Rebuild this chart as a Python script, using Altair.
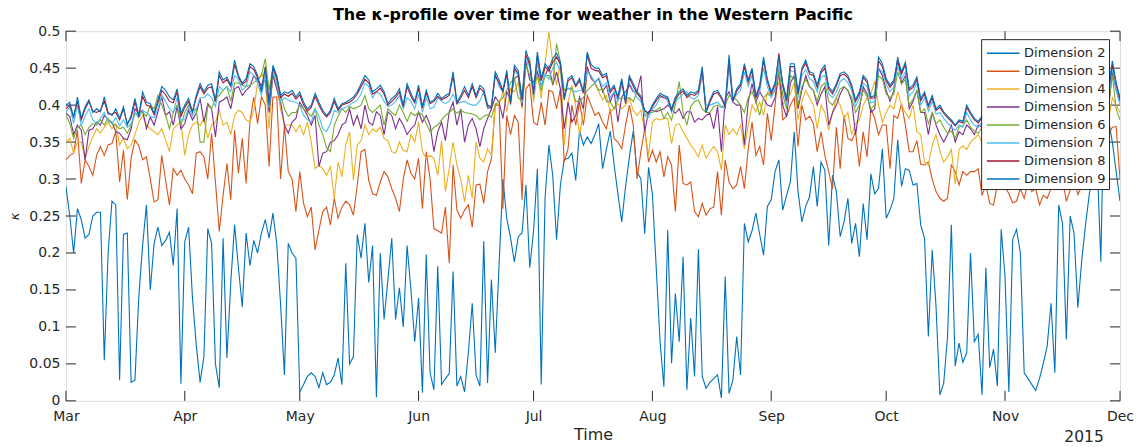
import altair as alt
import pandas as pd

start_date = "2015-03-01"
series_names = ["Dimension 2", "Dimension 3", "Dimension 4", "Dimension 5",
                "Dimension 6", "Dimension 7", "Dimension 8", "Dimension 9"]
colors = ["#0072BD", "#D95319", "#EDB120", "#7E2F8E",
          "#77AC30", "#4DBEEE", "#A2142F", "#0072BD"]

dim2 = [
    0.29, 0.25, 0.20, 0.26, 0.245, 0.22, 0.225, 0.25, 0.255, 0.255,
    0.055, 0.20, 0.27, 0.265, 0.028, 0.225, 0.227, 0.025, 0.028, 0.14,
    0.21, 0.265, 0.15, 0.213, 0.235, 0.21, 0.217, 0.228, 0.183, 0.26,
    0.023, 0.215, 0.235, 0.14, 0.075, 0.025, 0.06, 0.233, 0.213, 0.05,
    0.018, 0.22, 0.058, 0.16, 0.238, 0.18, 0.127, 0.227, 0.183, 0.217,
    0.20, 0.227, 0.245, 0.22, 0.254, 0.213, 0.13, 0.035, 0.213, 0.20,
    0.193, 0.012, 0.022, 0.033, 0.038, 0.033, 0.018, 0.038, 0.022, 0.025,
    0.035, 0.058, 0.022, 0.186, 0.05, 0.06, 0.225, 0.193, 0.24, 0.16,
    0.21, 0.005, 0.20, 0.11, 0.164, 0.22, 0.11, 0.153, 0.10, 0.21,
    0.15, 0.08, 0.139, 0.011, 0.198, 0.038, 0.015, 0.182, 0.022, 0.03,
    0.037, 0.175, 0.02, 0.033, 0.012, 0.066, 0.132, 0.035, 0.02, 0.216,
    0.024, 0.164, 0.065, 0.184, 0.30, 0.247, 0.22, 0.188, 0.222, 0.227,
    0.292, 0.18, 0.23, 0.314, 0.022, 0.274, 0.346, 0.305, 0.218, 0.292,
    0.326, 0.328, 0.335, 0.298, 0.366, 0.346, 0.357, 0.348, 0.36, 0.375,
    0.314, 0.34, 0.365, 0.32, 0.28, 0.242, 0.29, 0.33, 0.365, 0.31,
    0.30, 0.226, 0.316, 0.28, 0.18, 0.08, 0.019, 0.231, 0.051, 0.145,
    0.08, 0.195, 0.015, 0.112, 0.033, 0.205, 0.033, 0.017, 0.025, 0.03,
    0.035, 0.004, 0.168, 0.01, 0.028, 0.087, 0.035, 0.24, 0.215, 0.23,
    0.254, 0.225, 0.197, 0.263, 0.272, 0.31, 0.326, 0.258, 0.278, 0.296,
    0.364, 0.283, 0.242, 0.263, 0.276, 0.317, 0.263, 0.323, 0.312, 0.21,
    0.305, 0.283, 0.222, 0.242, 0.274, 0.213, 0.24, 0.195, 0.267, 0.218,
    0.307, 0.28, 0.287, 0.341, 0.247, 0.258, 0.274, 0.353, 0.29, 0.314,
    0.312, 0.292, 0.294, 0.238, 0.22, 0.087, 0.204, 0.128, 0.008, 0.024,
    0.087, 0.238, 0.047, 0.078, 0.052, 0.065, 0.20, 0.08, 0.09, 0.008,
    0.18, 0.045, 0.07, 0.02, 0.232, 0.168, 0.012, 0.218, 0.232, 0.20,
    0.038, 0.03, 0.022, 0.014, 0.03, 0.051, 0.074, 0.132, 0.038, 0.265,
    0.24, 0.083, 0.25, 0.227, 0.126, 0.189, 0.238, 0.28, 0.305, 0.33,
    0.188, 0.467, 0.38, 0.35, 0.31, 0.27,
]

dim3 = [
    0.326, 0.332, 0.335, 0.366, 0.294, 0.326, 0.317, 0.305, 0.332, 0.344,
    0.332, 0.346, 0.348, 0.364, 0.296, 0.339, 0.272, 0.328, 0.353, 0.345,
    0.326, 0.33, 0.30, 0.269, 0.272, 0.332, 0.298, 0.265, 0.314, 0.305,
    0.312, 0.30, 0.292, 0.28, 0.335, 0.337, 0.33, 0.30, 0.362, 0.296,
    0.229, 0.278, 0.321, 0.272, 0.366, 0.308, 0.355, 0.294, 0.378, 0.411,
    0.375, 0.411, 0.40, 0.317, 0.411, 0.411, 0.30, 0.373, 0.31, 0.30,
    0.256, 0.31, 0.267, 0.249, 0.262, 0.204, 0.231, 0.256, 0.262, 0.238,
    0.274, 0.247, 0.262, 0.27, 0.265, 0.251, 0.292, 0.337, 0.34, 0.298,
    0.28, 0.278, 0.296, 0.31, 0.303, 0.287, 0.274, 0.256, 0.30, 0.326,
    0.308, 0.30, 0.328, 0.26, 0.337, 0.30, 0.233, 0.23, 0.227, 0.262,
    0.186, 0.319, 0.258, 0.247, 0.258, 0.265, 0.235, 0.292, 0.293, 0.267,
    0.31, 0.328, 0.40, 0.40, 0.26, 0.386, 0.36, 0.386, 0.377, 0.272,
    0.422, 0.429, 0.377, 0.373, 0.404, 0.373, 0.42, 0.418, 0.395, 0.422,
    0.323, 0.341, 0.40, 0.373, 0.404, 0.373, 0.413, 0.40, 0.386, 0.39,
    0.377, 0.368, 0.395, 0.355, 0.35, 0.341, 0.373, 0.40, 0.373, 0.30,
    0.337, 0.368, 0.323, 0.339, 0.323, 0.337, 0.303, 0.33, 0.319, 0.256,
    0.346, 0.294, 0.292, 0.296, 0.256, 0.249, 0.267, 0.251, 0.26, 0.262,
    0.31, 0.251, 0.326, 0.296, 0.287, 0.292, 0.317, 0.287, 0.341, 0.377,
    0.332, 0.344, 0.319, 0.389, 0.352, 0.40, 0.45, 0.38, 0.385, 0.40,
    0.41, 0.344, 0.40, 0.38, 0.385, 0.375, 0.337, 0.364, 0.332, 0.31,
    0.287, 0.37, 0.314, 0.386, 0.355, 0.352, 0.364, 0.317, 0.364, 0.33,
    0.395, 0.382, 0.36, 0.373, 0.373, 0.314, 0.386, 0.382, 0.402, 0.373,
    0.337, 0.337, 0.352, 0.32, 0.319, 0.323, 0.30, 0.283, 0.274, 0.27,
    0.274, 0.319, 0.31, 0.292, 0.31, 0.305, 0.31, 0.31, 0.314, 0.278,
    0.292, 0.267, 0.265, 0.292, 0.30, 0.29, 0.28, 0.268, 0.27, 0.287,
    0.274, 0.296, 0.283, 0.287, 0.265, 0.278, 0.274, 0.287, 0.30, 0.29,
    0.30, 0.27, 0.285, 0.30, 0.279, 0.29, 0.31, 0.305, 0.33, 0.345,
    0.35, 0.38, 0.36, 0.37, 0.371, 0.30,
]

dim4 = [
    0.35, 0.355, 0.335, 0.35, 0.35, 0.328, 0.344, 0.357, 0.368, 0.362,
    0.37, 0.377, 0.368, 0.375, 0.346, 0.355, 0.341, 0.346, 0.36, 0.377,
    0.386, 0.373, 0.368, 0.364, 0.36, 0.368, 0.353, 0.337, 0.368, 0.373,
    0.377, 0.332, 0.36, 0.373, 0.377, 0.373, 0.382, 0.355, 0.373, 0.377,
    0.393, 0.373, 0.377, 0.36, 0.386, 0.393, 0.39, 0.38, 0.377, 0.393,
    0.431, 0.443, 0.43, 0.368, 0.445, 0.425, 0.395, 0.373, 0.373, 0.373,
    0.364, 0.373, 0.36, 0.377, 0.35, 0.314, 0.319, 0.314, 0.305, 0.317,
    0.274, 0.323, 0.303, 0.346, 0.364, 0.298, 0.346, 0.352, 0.373, 0.36,
    0.368, 0.364, 0.37, 0.355, 0.352, 0.337, 0.335, 0.35, 0.339, 0.337,
    0.36, 0.35, 0.377, 0.337, 0.328, 0.332, 0.328, 0.305, 0.352, 0.283,
    0.314, 0.35, 0.319, 0.30, 0.269, 0.305, 0.274, 0.35, 0.328, 0.323,
    0.341, 0.332, 0.402, 0.40, 0.418, 0.391, 0.422, 0.418, 0.431, 0.395,
    0.45, 0.463, 0.404, 0.445, 0.409, 0.456, 0.499, 0.458, 0.427, 0.458,
    0.346, 0.404, 0.427, 0.398, 0.36, 0.391, 0.445, 0.44, 0.429, 0.418,
    0.407, 0.413, 0.391, 0.395, 0.402, 0.395, 0.40, 0.409, 0.393, 0.386,
    0.393, 0.364, 0.332, 0.377, 0.382, 0.38, 0.382, 0.382, 0.348, 0.373,
    0.375, 0.364, 0.355, 0.346, 0.339, 0.33, 0.346, 0.328, 0.337, 0.344,
    0.337, 0.312, 0.373, 0.36, 0.368, 0.36, 0.373, 0.341, 0.373, 0.40,
    0.391, 0.404, 0.386, 0.418, 0.413, 0.42, 0.43, 0.40, 0.41, 0.415,
    0.43, 0.38, 0.405, 0.42, 0.41, 0.40, 0.368, 0.40, 0.39, 0.366,
    0.39, 0.41, 0.40, 0.382, 0.39, 0.36, 0.375, 0.38, 0.40, 0.41,
    0.415, 0.432, 0.40, 0.377, 0.39, 0.40, 0.395, 0.418, 0.40, 0.39,
    0.382, 0.40, 0.364, 0.36, 0.323, 0.319, 0.346, 0.36, 0.338, 0.323,
    0.33, 0.34, 0.293, 0.34, 0.345, 0.34, 0.35, 0.355, 0.36, 0.35,
    0.345, 0.33, 0.34, 0.35, 0.335, 0.345, 0.34, 0.33, 0.345, 0.35,
    0.34, 0.355, 0.345, 0.36, 0.35, 0.34, 0.355, 0.36, 0.35, 0.365,
    0.355, 0.37, 0.36, 0.35, 0.365, 0.37, 0.36, 0.375, 0.38, 0.37,
    0.385, 0.39, 0.38, 0.41, 0.40, 0.39,
]

dim5 = [
    0.389, 0.385, 0.36, 0.373, 0.366, 0.326, 0.366, 0.368, 0.377, 0.373,
    0.386, 0.38, 0.377, 0.364, 0.362, 0.355, 0.353, 0.368, 0.395, 0.389,
    0.393, 0.368, 0.384, 0.373, 0.391, 0.411, 0.386, 0.391, 0.373, 0.398,
    0.368, 0.375, 0.393, 0.38, 0.389, 0.409, 0.377, 0.402, 0.395, 0.357,
    0.404, 0.407, 0.411, 0.395, 0.422, 0.425, 0.413, 0.42, 0.425, 0.44,
    0.434, 0.427, 0.436, 0.39, 0.44, 0.422, 0.404, 0.373, 0.362, 0.377,
    0.382, 0.404, 0.395, 0.386, 0.373, 0.386, 0.317, 0.335, 0.337, 0.35,
    0.352, 0.36, 0.373, 0.377, 0.395, 0.373, 0.386, 0.368, 0.40, 0.377,
    0.373, 0.391, 0.386, 0.36, 0.391, 0.386, 0.368, 0.382, 0.373, 0.36,
    0.368, 0.373, 0.391, 0.377, 0.386, 0.373, 0.337, 0.364, 0.377, 0.352,
    0.391, 0.404, 0.373, 0.395, 0.35, 0.373, 0.382, 0.368, 0.344, 0.368,
    0.382, 0.395, 0.411, 0.404, 0.382, 0.418, 0.407, 0.436, 0.44, 0.398,
    0.458, 0.434, 0.431, 0.445, 0.427, 0.44, 0.452, 0.427, 0.445, 0.422,
    0.368, 0.404, 0.377, 0.386, 0.411, 0.395, 0.452, 0.436, 0.431, 0.436,
    0.418, 0.427, 0.404, 0.418, 0.377, 0.411, 0.418, 0.427, 0.418, 0.418,
    0.44, 0.364, 0.391, 0.393, 0.391, 0.393, 0.395, 0.40, 0.395, 0.389,
    0.395, 0.382, 0.391, 0.391, 0.377, 0.382, 0.38, 0.386, 0.389, 0.368,
    0.398, 0.337, 0.409, 0.418, 0.404, 0.40, 0.40, 0.346, 0.404, 0.429,
    0.404, 0.418, 0.409, 0.40, 0.398, 0.41, 0.445, 0.40, 0.384, 0.43,
    0.44, 0.395, 0.42, 0.44, 0.425, 0.42, 0.40, 0.415, 0.425, 0.373,
    0.39, 0.40, 0.415, 0.425, 0.42, 0.405, 0.36, 0.395, 0.425, 0.415,
    0.39, 0.395, 0.45, 0.44, 0.42, 0.405, 0.42, 0.465, 0.43, 0.44,
    0.395, 0.405, 0.42, 0.39, 0.39, 0.36, 0.39, 0.373, 0.36, 0.35,
    0.36, 0.373, 0.35, 0.364, 0.36, 0.373, 0.368, 0.36, 0.373, 0.37,
    0.365, 0.36, 0.35, 0.362, 0.355, 0.348, 0.36, 0.352, 0.365, 0.358,
    0.352, 0.368, 0.36, 0.372, 0.363, 0.355, 0.37, 0.376, 0.366, 0.374,
    0.37, 0.383, 0.374, 0.388, 0.378, 0.393, 0.383, 0.398, 0.388, 0.403,
    0.39, 0.405, 0.395, 0.445, 0.42, 0.405,
]

dim6 = [
    0.387, 0.375, 0.355, 0.37, 0.373, 0.36, 0.37, 0.375, 0.373, 0.38,
    0.373, 0.382, 0.375, 0.373, 0.368, 0.37, 0.362, 0.373, 0.388, 0.39,
    0.39, 0.385, 0.40, 0.395, 0.413, 0.40, 0.386, 0.368, 0.39, 0.40,
    0.373, 0.39, 0.40, 0.393, 0.395, 0.35, 0.35, 0.40, 0.395, 0.41,
    0.413, 0.42, 0.425, 0.405, 0.43, 0.43, 0.427, 0.425, 0.427, 0.43,
    0.435, 0.44, 0.463, 0.42, 0.45, 0.435, 0.415, 0.395, 0.385, 0.39,
    0.39, 0.40, 0.395, 0.39, 0.385, 0.395, 0.373, 0.36, 0.342, 0.337,
    0.373, 0.385, 0.395, 0.39, 0.398, 0.395, 0.397, 0.40, 0.413, 0.395,
    0.39, 0.395, 0.40, 0.373, 0.395, 0.39, 0.386, 0.40, 0.39, 0.378,
    0.39, 0.386, 0.39, 0.387, 0.375, 0.364, 0.37, 0.373, 0.38, 0.386,
    0.39, 0.395, 0.389, 0.393, 0.39, 0.389, 0.388, 0.386, 0.38, 0.385,
    0.387, 0.384, 0.40, 0.405, 0.41, 0.42, 0.43, 0.436, 0.41, 0.405,
    0.454, 0.44, 0.43, 0.438, 0.42, 0.44, 0.44, 0.43, 0.483, 0.458,
    0.42, 0.422, 0.423, 0.405, 0.405, 0.41, 0.42, 0.425, 0.43, 0.42,
    0.422, 0.405, 0.404, 0.395, 0.408, 0.41, 0.409, 0.41, 0.405, 0.418,
    0.413, 0.386, 0.39, 0.39, 0.393, 0.397, 0.382, 0.39, 0.38, 0.40,
    0.432, 0.39, 0.373, 0.398, 0.405, 0.407, 0.395, 0.39, 0.39, 0.398,
    0.40, 0.397, 0.40, 0.413, 0.41, 0.407, 0.40, 0.39, 0.41, 0.418,
    0.405, 0.386, 0.41, 0.415, 0.412, 0.42, 0.445, 0.415, 0.395, 0.44,
    0.435, 0.40, 0.425, 0.435, 0.425, 0.42, 0.405, 0.425, 0.43, 0.405,
    0.40, 0.41, 0.422, 0.425, 0.42, 0.41, 0.39, 0.40, 0.42, 0.412,
    0.395, 0.40, 0.44, 0.435, 0.415, 0.41, 0.415, 0.445, 0.428, 0.435,
    0.40, 0.408, 0.42, 0.39, 0.395, 0.375, 0.39, 0.375, 0.38, 0.37,
    0.362, 0.365, 0.355, 0.37, 0.372, 0.38, 0.37, 0.365, 0.362, 0.37,
    0.373, 0.365, 0.358, 0.37, 0.362, 0.355, 0.368, 0.36, 0.373, 0.365,
    0.36, 0.375, 0.368, 0.38, 0.37, 0.362, 0.377, 0.383, 0.373, 0.381,
    0.378, 0.39, 0.381, 0.394, 0.385, 0.40, 0.39, 0.404, 0.395, 0.41,
    0.398, 0.412, 0.402, 0.44, 0.395, 0.38,
]

dim7 = [
    0.39, 0.398, 0.375, 0.40, 0.372, 0.385, 0.395, 0.38, 0.375, 0.382,
    0.39, 0.378, 0.375, 0.383, 0.372, 0.38, 0.37, 0.375, 0.39, 0.383,
    0.392, 0.39, 0.385, 0.383, 0.395, 0.414, 0.405, 0.395, 0.39, 0.41,
    0.38, 0.38, 0.397, 0.385, 0.395, 0.41, 0.41, 0.415, 0.41, 0.398,
    0.425, 0.42, 0.425, 0.418, 0.44, 0.435, 0.42, 0.425, 0.445, 0.44,
    0.43, 0.413, 0.44, 0.396, 0.445, 0.43, 0.405, 0.41, 0.407, 0.405,
    0.404, 0.40, 0.386, 0.38, 0.377, 0.395, 0.385, 0.368, 0.364, 0.375,
    0.393, 0.39, 0.395, 0.397, 0.40, 0.404, 0.407, 0.415, 0.43, 0.425,
    0.41, 0.418, 0.415, 0.405, 0.398, 0.40, 0.405, 0.413, 0.395, 0.41,
    0.405, 0.395, 0.415, 0.39, 0.41, 0.395, 0.397, 0.41, 0.405, 0.402,
    0.405, 0.415, 0.402, 0.404, 0.405, 0.402, 0.40, 0.40, 0.406, 0.418,
    0.395, 0.397, 0.442, 0.425, 0.418, 0.44, 0.40, 0.447, 0.44, 0.403,
    0.462, 0.452, 0.41, 0.458, 0.425, 0.442, 0.435, 0.45, 0.458, 0.445,
    0.415, 0.423, 0.42, 0.418, 0.42, 0.42, 0.445, 0.44, 0.43, 0.437,
    0.425, 0.43, 0.41, 0.418, 0.405, 0.427, 0.41, 0.43, 0.42, 0.41,
    0.405, 0.386, 0.383, 0.395, 0.40, 0.41, 0.413, 0.405, 0.39, 0.405,
    0.41, 0.415, 0.418, 0.41, 0.408, 0.413, 0.44, 0.40, 0.40, 0.402,
    0.404, 0.398, 0.395, 0.45, 0.405, 0.415, 0.42, 0.445, 0.425, 0.44,
    0.41, 0.418, 0.45, 0.425, 0.41, 0.422, 0.455, 0.425, 0.40, 0.447,
    0.445, 0.41, 0.44, 0.448, 0.436, 0.432, 0.418, 0.438, 0.44, 0.415,
    0.41, 0.418, 0.432, 0.436, 0.43, 0.42, 0.398, 0.41, 0.43, 0.425,
    0.403, 0.405, 0.45, 0.445, 0.428, 0.418, 0.425, 0.452, 0.436, 0.445,
    0.412, 0.418, 0.43, 0.40, 0.41, 0.392, 0.405, 0.388, 0.39, 0.382,
    0.376, 0.37, 0.366, 0.373, 0.37, 0.39, 0.38, 0.373, 0.37, 0.377,
    0.38, 0.372, 0.365, 0.377, 0.37, 0.362, 0.375, 0.368, 0.38, 0.372,
    0.368, 0.382, 0.375, 0.386, 0.378, 0.37, 0.384, 0.39, 0.38, 0.388,
    0.385, 0.396, 0.388, 0.40, 0.392, 0.406, 0.397, 0.41, 0.402, 0.415,
    0.405, 0.42, 0.41, 0.45, 0.42, 0.40,
]

dim8 = [
    0.395, 0.40, 0.385, 0.405, 0.38, 0.395, 0.405, 0.392, 0.39, 0.393,
    0.405, 0.388, 0.388, 0.39, 0.38, 0.395, 0.375, 0.383, 0.405, 0.384,
    0.412, 0.40, 0.398, 0.387, 0.403, 0.42, 0.414, 0.405, 0.403, 0.418,
    0.385, 0.397, 0.405, 0.39, 0.41, 0.425, 0.415, 0.423, 0.425, 0.405,
    0.44, 0.43, 0.435, 0.425, 0.455, 0.438, 0.428, 0.432, 0.452, 0.448,
    0.437, 0.42, 0.452, 0.405, 0.45, 0.437, 0.41, 0.415, 0.412, 0.416,
    0.408, 0.414, 0.40, 0.392, 0.397, 0.412, 0.40, 0.39, 0.384, 0.39,
    0.405, 0.393, 0.40, 0.402, 0.404, 0.408, 0.415, 0.425, 0.435, 0.43,
    0.415, 0.418, 0.423, 0.415, 0.40, 0.405, 0.41, 0.418, 0.398, 0.425,
    0.412, 0.403, 0.423, 0.396, 0.417, 0.402, 0.405, 0.412, 0.407, 0.41,
    0.413, 0.44, 0.402, 0.41, 0.42, 0.41, 0.425, 0.41, 0.423, 0.418,
    0.398, 0.396, 0.44, 0.43, 0.418, 0.443, 0.402, 0.45, 0.443, 0.407,
    0.468, 0.455, 0.415, 0.467, 0.433, 0.452, 0.446, 0.458, 0.465, 0.455,
    0.407, 0.433, 0.437, 0.425, 0.433, 0.416, 0.468, 0.45, 0.447, 0.446,
    0.437, 0.44, 0.417, 0.424, 0.41, 0.433, 0.402, 0.437, 0.426, 0.416,
    0.409, 0.392, 0.388, 0.398, 0.406, 0.413, 0.41, 0.409, 0.393, 0.408,
    0.415, 0.419, 0.41, 0.415, 0.413, 0.417, 0.448, 0.39, 0.404, 0.415,
    0.417, 0.409, 0.398, 0.462, 0.405, 0.419, 0.426, 0.452, 0.431, 0.447,
    0.41, 0.424, 0.46, 0.432, 0.415, 0.427, 0.47, 0.427, 0.406, 0.452,
    0.452, 0.415, 0.447, 0.457, 0.442, 0.44, 0.424, 0.444, 0.45, 0.422,
    0.415, 0.426, 0.44, 0.442, 0.437, 0.424, 0.405, 0.415, 0.437, 0.431,
    0.409, 0.41, 0.46, 0.452, 0.433, 0.424, 0.431, 0.46, 0.442, 0.455,
    0.42, 0.424, 0.435, 0.406, 0.415, 0.398, 0.41, 0.393, 0.397, 0.389,
    0.383, 0.378, 0.372, 0.378, 0.376, 0.397, 0.388, 0.38, 0.376, 0.383,
    0.387, 0.378, 0.37, 0.383, 0.376, 0.368, 0.38, 0.373, 0.385, 0.378,
    0.374, 0.387, 0.38, 0.392, 0.383, 0.376, 0.39, 0.397, 0.386, 0.394,
    0.39, 0.402, 0.394, 0.407, 0.398, 0.412, 0.403, 0.417, 0.408, 0.422,
    0.413, 0.427, 0.418, 0.455, 0.428, 0.408,
]

dim9 = [
    0.40, 0.404, 0.382, 0.411, 0.382, 0.398, 0.407, 0.39, 0.395, 0.391,
    0.411, 0.39, 0.386, 0.395, 0.382, 0.398, 0.373, 0.386, 0.409, 0.386,
    0.418, 0.404, 0.402, 0.389, 0.407, 0.425, 0.42, 0.411, 0.407, 0.422,
    0.389, 0.40, 0.409, 0.391, 0.413, 0.429, 0.418, 0.427, 0.429, 0.407,
    0.445, 0.434, 0.438, 0.427, 0.461, 0.44, 0.43, 0.436, 0.456, 0.452,
    0.44, 0.418, 0.45, 0.40, 0.454, 0.44, 0.413, 0.418, 0.416, 0.42,
    0.411, 0.418, 0.404, 0.395, 0.40, 0.416, 0.404, 0.393, 0.386, 0.393,
    0.409, 0.395, 0.402, 0.404, 0.407, 0.411, 0.418, 0.429, 0.44, 0.434,
    0.418, 0.422, 0.427, 0.418, 0.402, 0.409, 0.413, 0.422, 0.40, 0.429,
    0.416, 0.405, 0.427, 0.398, 0.42, 0.404, 0.407, 0.416, 0.409, 0.413,
    0.416, 0.445, 0.404, 0.413, 0.425, 0.413, 0.429, 0.413, 0.427, 0.422,
    0.40, 0.398, 0.445, 0.434, 0.42, 0.447, 0.404, 0.454, 0.447, 0.409,
    0.474, 0.458, 0.418, 0.472, 0.436, 0.456, 0.449, 0.463, 0.47, 0.458,
    0.409, 0.436, 0.44, 0.427, 0.436, 0.418, 0.472, 0.455, 0.45, 0.45,
    0.44, 0.443, 0.42, 0.427, 0.411, 0.436, 0.404, 0.44, 0.429, 0.418,
    0.411, 0.393, 0.389, 0.40, 0.409, 0.416, 0.413, 0.411, 0.395, 0.411,
    0.418, 0.422, 0.413, 0.418, 0.416, 0.42, 0.452, 0.391, 0.407, 0.418,
    0.42, 0.411, 0.40, 0.468, 0.407, 0.422, 0.429, 0.456, 0.434, 0.45,
    0.413, 0.427, 0.465, 0.435, 0.418, 0.43, 0.465, 0.43, 0.409, 0.456,
    0.456, 0.418, 0.45, 0.461, 0.445, 0.443, 0.427, 0.447, 0.454, 0.425,
    0.418, 0.429, 0.443, 0.445, 0.44, 0.427, 0.407, 0.418, 0.44, 0.434,
    0.411, 0.413, 0.465, 0.456, 0.436, 0.427, 0.434, 0.463, 0.445, 0.458,
    0.422, 0.427, 0.438, 0.409, 0.418, 0.40, 0.413, 0.395, 0.40, 0.391,
    0.385, 0.38, 0.373, 0.38, 0.378, 0.40, 0.39, 0.382, 0.378, 0.385,
    0.39, 0.38, 0.372, 0.385, 0.378, 0.37, 0.383, 0.375, 0.388, 0.38,
    0.376, 0.39, 0.382, 0.395, 0.385, 0.378, 0.392, 0.40, 0.388, 0.397,
    0.392, 0.405, 0.396, 0.41, 0.40, 0.415, 0.405, 0.42, 0.41, 0.425,
    0.415, 0.43, 0.42, 0.46, 0.43, 0.41,
]

series_values = [dim2, dim3, dim4, dim5, dim6, dim7, dim8, dim9]

month_starts = ["2015-03-01", "2015-04-01", "2015-05-01", "2015-06-01", "2015-07-01",
                "2015-08-01", "2015-09-01", "2015-10-01", "2015-11-01", "2015-12-01"]
y_ticks = [0, 0.05, 0.1, 0.15, 0.2, 0.25, 0.3, 0.35, 0.4, 0.45, 0.5]
title_text = "The \u03ba-profile over time for weather in the Western Pacific"
x_title = "Time"
y_title = "\u03ba"
year_label = "2015"

# ---- build tables ----
start = pd.Timestamp(start_date)
rows = []
for name, vals in zip(series_names, series_values):
    for i, v in enumerate(vals):
        rows.append({"date": start + pd.Timedelta(days=i), "series": name, "kappa": v})
df = pd.DataFrame(rows)
xt_df = pd.DataFrame({"date": pd.to_datetime(month_starts)})
yt_df = pd.DataFrame({"v": y_ticks})
yr_df = pd.DataFrame({"t": [year_label]})

W, H = 1055, 370
AX = "#262626"
FONT = "DejaVu Sans"
TL = 10

x_vals = [alt.DateTime(year=int(s[:4]), month=int(s[5:7]), date=1) for s in month_starts]
x_scale = alt.Scale(domain=[x_vals[0], x_vals[-1]])
y_scale = alt.Scale(domain=[0, 0.5])
c_scale = alt.Scale(domain=series_names, range=colors)

x_axis = alt.Axis(values=x_vals, format="%b", ticks=False, domain=False, grid=False,
                  labelFlush=False, labelOverlap=False, labelFontSize=14, labelFont=FONT,
                  labelColor=AX, labelPadding=9, title=x_title, titleFont=FONT,
                  titleFontSize=16, titleFontWeight="normal", titleColor=AX, titlePadding=3)
y_axis = alt.Axis(values=y_ticks, format=".2~f", ticks=False, domain=False, grid=False,
                  labelFontSize=14, labelFont=FONT, labelColor=AX, labelPadding=6,
                  title=y_title, titleFont=FONT, titleFontSize=13, titleFontStyle="italic",
                  titleFontWeight="normal", titleColor=AX, titlePadding=7)
legend = alt.Legend(title=None, orient="none", legendX=916, legendY=8,
                    symbolType="M-0.83,0H2.43", symbolStrokeWidth=1.5, symbolSize=400,
                    labelFontSize=13, labelFont=FONT, labelColor=AX, labelOffset=18,
                    strokeColor=AX, fillColor="white", padding=3, rowPadding=0)

layers = []
for name in series_names:
    layers.append(
        alt.Chart(df).transform_filter(alt.datum.series == name)
        .mark_line(strokeWidth=1.1, clip=True)
        .encode(
            x=alt.X("date:T", scale=x_scale, axis=x_axis),
            y=alt.Y("kappa:Q", scale=y_scale, axis=y_axis),
            color=alt.Color("series:N", scale=c_scale, legend=legend),
        )
    )

xt_bottom = alt.Chart(xt_df).mark_rule(color=AX, strokeWidth=1).encode(
    x=alt.X("date:T", scale=x_scale, axis=x_axis), y=alt.value(H - TL), y2=alt.value(H))
xt_top = alt.Chart(xt_df).mark_rule(color=AX, strokeWidth=1).encode(
    x=alt.X("date:T", scale=x_scale, axis=x_axis), y=alt.value(0), y2=alt.value(TL))
yt_left = alt.Chart(yt_df).mark_rule(color=AX, strokeWidth=1).encode(
    y=alt.Y("v:Q", scale=y_scale, axis=y_axis), x=alt.value(0), x2=alt.value(TL))
yt_right = alt.Chart(yt_df).mark_rule(color=AX, strokeWidth=1).encode(
    y=alt.Y("v:Q", scale=y_scale, axis=y_axis), x=alt.value(W - TL), x2=alt.value(W))
year_text = alt.Chart(yr_df).mark_text(font=FONT, fontSize=15.5, color=AX).encode(
    text="t:N", x=alt.value(1019), y=alt.value(406))

chart = alt.layer(xt_bottom, xt_top, yt_left, yt_right, *layers, year_text).properties(
    width=W, height=H,
    title=alt.TitleParams(text=title_text, font=FONT, fontSize=16, fontWeight="bold",
                          color="#000000", anchor="middle", offset=1, frame="group"),
    autosize=alt.AutoSizeParams(type="none"),
    padding={"left": 58, "top": 23, "right": 14, "bottom": 48},
).configure_view(stroke=AX, strokeWidth=1).configure(background="white")

chart.save("out.html", embed_options={"renderer": "svg", "actions": False})
